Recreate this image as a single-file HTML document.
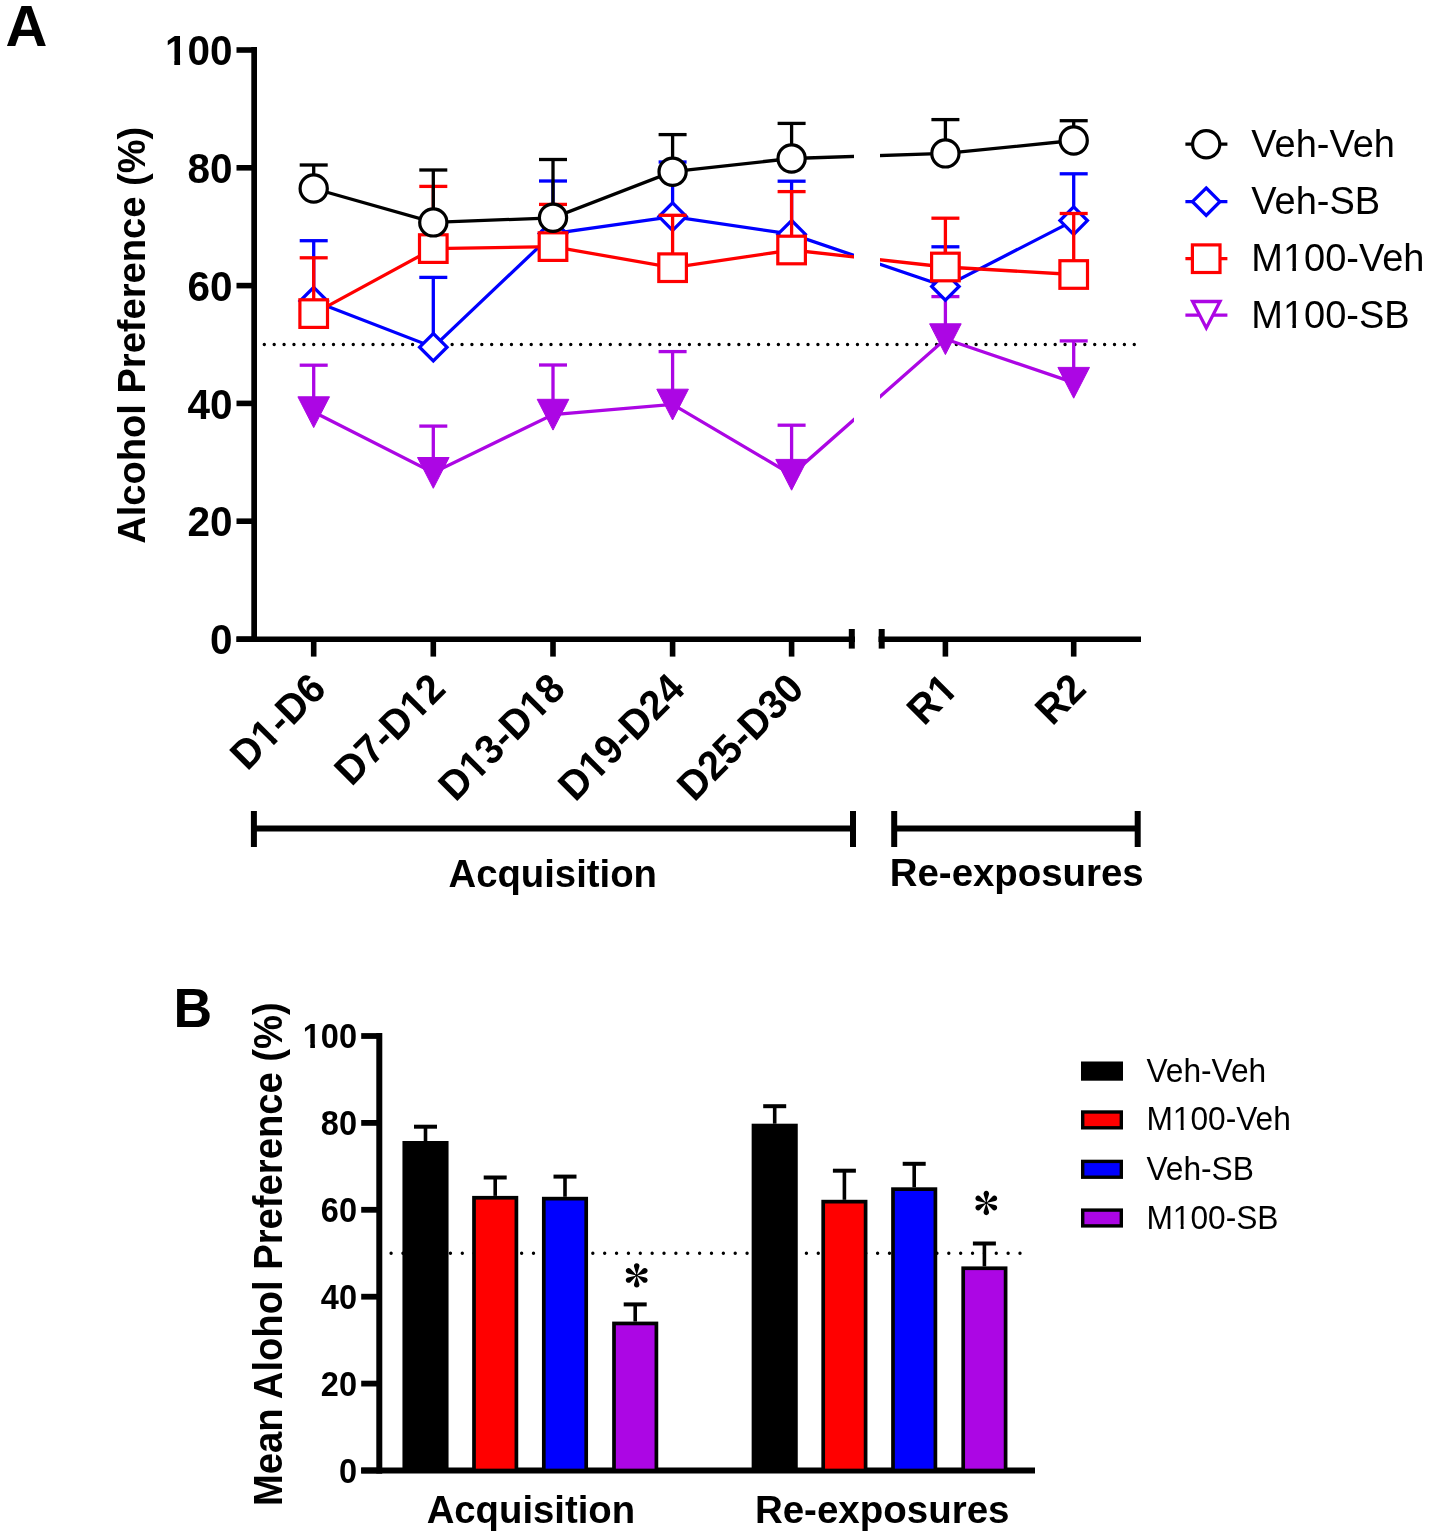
<!DOCTYPE html>
<html><head><meta charset="utf-8"><style>
html,body{margin:0;padding:0;background:#fff;}
svg{display:block;will-change:transform;}
</style></head><body>
<svg width="1429" height="1537" viewBox="0 0 1429 1537">
<rect width="1429" height="1537" fill="#fff"/>
<text transform="translate(5.45,45.50) scale(1.0,0.975)" font-size="58" font-weight="bold" text-anchor="start" font-family='"Liberation Sans", sans-serif'>A</text>
<line x1="236.5" y1="50" x2="256" y2="50" stroke="#000" stroke-width="5.6"/>
<g transform="translate(232.50,65.20) scale(1.0,1.04)"><text id="t1" font-size="40.5" font-weight="bold" text-anchor="end" font-family='"Liberation Sans", sans-serif'>100</text>
<rect x="-65.99" y="-5.33" width="7.80" height="6.53" fill="#fff"/>
<rect x="-52.43" y="-5.33" width="7.29" height="6.53" fill="#fff"/>
</g>
<line x1="236.5" y1="167.8" x2="256" y2="167.8" stroke="#000" stroke-width="5.6"/>
<text transform="translate(232.50,183.00) scale(1.0,1.04)" font-size="40.5" font-weight="bold" text-anchor="end" font-family='"Liberation Sans", sans-serif'>80</text>
<line x1="236.5" y1="285.6" x2="256" y2="285.6" stroke="#000" stroke-width="5.6"/>
<text transform="translate(232.50,300.80) scale(1.0,1.04)" font-size="40.5" font-weight="bold" text-anchor="end" font-family='"Liberation Sans", sans-serif'>60</text>
<line x1="236.5" y1="403.4" x2="256" y2="403.4" stroke="#000" stroke-width="5.6"/>
<text transform="translate(232.50,418.60) scale(1.0,1.04)" font-size="40.5" font-weight="bold" text-anchor="end" font-family='"Liberation Sans", sans-serif'>40</text>
<line x1="236.5" y1="521.2" x2="256" y2="521.2" stroke="#000" stroke-width="5.6"/>
<text transform="translate(232.50,536.40) scale(1.0,1.04)" font-size="40.5" font-weight="bold" text-anchor="end" font-family='"Liberation Sans", sans-serif'>20</text>
<line x1="236.5" y1="639.2" x2="256" y2="639.2" stroke="#000" stroke-width="5.6"/>
<text transform="translate(232.50,654.40) scale(1.0,1.04)" font-size="40.5" font-weight="bold" text-anchor="end" font-family='"Liberation Sans", sans-serif'>0</text>
<line x1="254.15" y1="47.0" x2="254.15" y2="641.9" stroke="#000" stroke-width="5.7"/>
<line x1="236.5" y1="639.2" x2="855" y2="639.2" stroke="#000" stroke-width="5.6"/>
<line x1="851.8" y1="629" x2="851.8" y2="648.6" stroke="#000" stroke-width="6"/>
<line x1="878.5" y1="639.2" x2="1141" y2="639.2" stroke="#000" stroke-width="5.6"/>
<line x1="881.7" y1="629" x2="881.7" y2="648.6" stroke="#000" stroke-width="6"/>
<line x1="313.7" y1="640" x2="313.7" y2="656.6" stroke="#000" stroke-width="5.6"/>
<line x1="433.3" y1="640" x2="433.3" y2="656.6" stroke="#000" stroke-width="5.6"/>
<line x1="553.0" y1="640" x2="553.0" y2="656.6" stroke="#000" stroke-width="5.6"/>
<line x1="672.6" y1="640" x2="672.6" y2="656.6" stroke="#000" stroke-width="5.6"/>
<line x1="791.6" y1="640" x2="791.6" y2="656.6" stroke="#000" stroke-width="5.6"/>
<line x1="945.4" y1="640" x2="945.4" y2="656.6" stroke="#000" stroke-width="5.6"/>
<line x1="1073.7" y1="640" x2="1073.7" y2="656.6" stroke="#000" stroke-width="5.6"/>
<g transform="translate(328.00,691.00) rotate(-45) scale(1.0,1.04)"><text id="t2" font-size="39.5" font-weight="bold" text-anchor="end" font-family='"Liberation Sans", sans-serif'>D1-D6</text>
<rect x="-84.11" y="-5.23" width="7.63" height="6.43" fill="#fff"/>
<rect x="-70.86" y="-5.23" width="7.13" height="6.43" fill="#fff"/>
</g>
<g transform="translate(447.60,691.00) rotate(-45) scale(1.0,1.04)"><text id="t3" font-size="39.5" font-weight="bold" text-anchor="end" font-family='"Liberation Sans", sans-serif'>D7-D12</text>
<rect x="-42.45" y="-5.23" width="7.63" height="6.43" fill="#fff"/>
<rect x="-29.20" y="-5.23" width="7.13" height="6.43" fill="#fff"/>
</g>
<g transform="translate(567.30,691.00) rotate(-45) scale(1.0,1.04)"><text id="t4" font-size="39.5" font-weight="bold" text-anchor="end" font-family='"Liberation Sans", sans-serif'>D13-D18</text>
<rect x="-128.04" y="-5.23" width="7.63" height="6.43" fill="#fff"/>
<rect x="-114.79" y="-5.23" width="7.13" height="6.43" fill="#fff"/>
<rect x="-42.45" y="-5.23" width="7.63" height="6.43" fill="#fff"/>
<rect x="-29.20" y="-5.23" width="7.13" height="6.43" fill="#fff"/>
</g>
<g transform="translate(686.90,691.00) rotate(-45) scale(1.0,1.04)"><text id="t5" font-size="39.5" font-weight="bold" text-anchor="end" font-family='"Liberation Sans", sans-serif'>D19-D24</text>
<rect x="-128.04" y="-5.23" width="7.63" height="6.43" fill="#fff"/>
<rect x="-114.79" y="-5.23" width="7.13" height="6.43" fill="#fff"/>
</g>
<text transform="translate(805.90,691.00) rotate(-45) scale(1.0,1.04)" font-size="39.5" font-weight="bold" text-anchor="end" font-family='"Liberation Sans", sans-serif'>D25-D30</text>
<g transform="translate(959.70,691.00) rotate(-45) scale(1.0,1.04)"><text id="t6" font-size="39.5" font-weight="bold" text-anchor="end" font-family='"Liberation Sans", sans-serif'>R1</text>
<rect x="-20.49" y="-5.23" width="7.63" height="6.43" fill="#fff"/>
<rect x="-7.24" y="-5.23" width="7.13" height="6.43" fill="#fff"/>
</g>
<text transform="translate(1088.00,691.00) rotate(-45) scale(1.0,1.04)" font-size="39.5" font-weight="bold" text-anchor="end" font-family='"Liberation Sans", sans-serif'>R2</text>
<line x1="253.9" y1="828.5" x2="853" y2="828.5" stroke="#000" stroke-width="6"/>
<line x1="253.9" y1="811" x2="253.9" y2="847" stroke="#000" stroke-width="6"/>
<line x1="853" y1="811" x2="853" y2="847" stroke="#000" stroke-width="6"/>
<line x1="894.2" y1="828.5" x2="1137.7" y2="828.5" stroke="#000" stroke-width="6"/>
<line x1="894.2" y1="811" x2="894.2" y2="847" stroke="#000" stroke-width="6"/>
<line x1="1137.7" y1="811" x2="1137.7" y2="847" stroke="#000" stroke-width="6"/>
<text transform="translate(552.70,886.60) scale(1.0,1.02)" font-size="38.3" font-weight="bold" text-anchor="middle" font-family='"Liberation Sans", sans-serif'>Acquisition</text>
<text transform="translate(1016.70,886.40) scale(1.0,1.02)" font-size="38.4" font-weight="bold" text-anchor="middle" font-family='"Liberation Sans", sans-serif'>Re-exposures</text>
<text transform="translate(144.70,335.30) rotate(-90) scale(1.0,1.04)" font-size="38.1" font-weight="bold" text-anchor="middle" font-family='"Liberation Sans", sans-serif'>Alcohol Preference (%)</text>
<line x1="264.3" y1="344.5" x2="1134.4" y2="344.5" stroke="#000" stroke-width="3.4" stroke-dasharray="0 9.886" stroke-linecap="round"/>
<defs><clipPath id="brk"><rect x="0" y="0" width="854" height="700"/><rect x="880" y="0" width="549" height="700"/></clipPath></defs>
<line x1="313.7" y1="412" x2="313.7" y2="365.2" stroke="#ac06e4" stroke-width="3.3"/>
<line x1="299.7" y1="365.2" x2="327.7" y2="365.2" stroke="#ac06e4" stroke-width="3.3"/>
<line x1="433.3" y1="472.7" x2="433.3" y2="426.1" stroke="#ac06e4" stroke-width="3.3"/>
<line x1="419.3" y1="426.1" x2="447.3" y2="426.1" stroke="#ac06e4" stroke-width="3.3"/>
<line x1="553.0" y1="414.5" x2="553.0" y2="365" stroke="#ac06e4" stroke-width="3.3"/>
<line x1="539.0" y1="365" x2="567.0" y2="365" stroke="#ac06e4" stroke-width="3.3"/>
<line x1="672.6" y1="404.4" x2="672.6" y2="351.6" stroke="#ac06e4" stroke-width="3.3"/>
<line x1="658.6" y1="351.6" x2="686.6" y2="351.6" stroke="#ac06e4" stroke-width="3.3"/>
<line x1="791.6" y1="474.6" x2="791.6" y2="425.2" stroke="#ac06e4" stroke-width="3.3"/>
<line x1="777.6" y1="425.2" x2="805.6" y2="425.2" stroke="#ac06e4" stroke-width="3.3"/>
<line x1="945.4" y1="339" x2="945.4" y2="296.6" stroke="#ac06e4" stroke-width="3.3"/>
<line x1="931.4" y1="296.6" x2="959.4" y2="296.6" stroke="#ac06e4" stroke-width="3.3"/>
<line x1="1073.7" y1="382.6" x2="1073.7" y2="340.9" stroke="#ac06e4" stroke-width="3.3"/>
<line x1="1059.7" y1="340.9" x2="1087.7" y2="340.9" stroke="#ac06e4" stroke-width="3.3"/>
<polyline points="313.7,412 433.3,472.7 553.0,414.5 672.6,404.4 791.6,474.6 945.4,339 1073.7,382.6" fill="none" stroke="#ac06e4" stroke-width="3.3" clip-path="url(#brk)"/>
<path d="M297.9 396.8 L329.5 396.8 L313.7 427.6 Z" fill="#ac06e4" stroke="#ac06e4" stroke-width="1" stroke-linejoin="miter"/>
<path d="M417.5 457.5 L449.1 457.5 L433.3 488.3 Z" fill="#ac06e4" stroke="#ac06e4" stroke-width="1" stroke-linejoin="miter"/>
<path d="M537.2 399.3 L568.8 399.3 L553.0 430.1 Z" fill="#ac06e4" stroke="#ac06e4" stroke-width="1" stroke-linejoin="miter"/>
<path d="M656.8000000000001 389.2 L688.4 389.2 L672.6 420.0 Z" fill="#ac06e4" stroke="#ac06e4" stroke-width="1" stroke-linejoin="miter"/>
<path d="M775.8000000000001 459.40000000000003 L807.4 459.40000000000003 L791.6 490.20000000000005 Z" fill="#ac06e4" stroke="#ac06e4" stroke-width="1" stroke-linejoin="miter"/>
<path d="M929.6 323.8 L961.1999999999999 323.8 L945.4 354.6 Z" fill="#ac06e4" stroke="#ac06e4" stroke-width="1" stroke-linejoin="miter"/>
<path d="M1057.9 367.40000000000003 L1089.5 367.40000000000003 L1073.7 398.20000000000005 Z" fill="#ac06e4" stroke="#ac06e4" stroke-width="1" stroke-linejoin="miter"/>
<line x1="313.7" y1="301" x2="313.7" y2="240.7" stroke="#0000ff" stroke-width="3.3"/>
<line x1="299.7" y1="240.7" x2="327.7" y2="240.7" stroke="#0000ff" stroke-width="3.3"/>
<line x1="433.3" y1="347.2" x2="433.3" y2="277.4" stroke="#0000ff" stroke-width="3.3"/>
<line x1="419.3" y1="277.4" x2="447.3" y2="277.4" stroke="#0000ff" stroke-width="3.3"/>
<line x1="553.0" y1="233.5" x2="553.0" y2="181" stroke="#0000ff" stroke-width="3.3"/>
<line x1="539.0" y1="181" x2="567.0" y2="181" stroke="#0000ff" stroke-width="3.3"/>
<line x1="672.6" y1="216.6" x2="672.6" y2="162" stroke="#0000ff" stroke-width="3.3"/>
<line x1="658.6" y1="162" x2="686.6" y2="162" stroke="#0000ff" stroke-width="3.3"/>
<line x1="791.6" y1="234.2" x2="791.6" y2="181.2" stroke="#0000ff" stroke-width="3.3"/>
<line x1="777.6" y1="181.2" x2="805.6" y2="181.2" stroke="#0000ff" stroke-width="3.3"/>
<line x1="945.4" y1="286.5" x2="945.4" y2="246.8" stroke="#0000ff" stroke-width="3.3"/>
<line x1="931.4" y1="246.8" x2="959.4" y2="246.8" stroke="#0000ff" stroke-width="3.3"/>
<line x1="1073.7" y1="220.6" x2="1073.7" y2="173.8" stroke="#0000ff" stroke-width="3.3"/>
<line x1="1059.7" y1="173.8" x2="1087.7" y2="173.8" stroke="#0000ff" stroke-width="3.3"/>
<polyline points="313.7,301 433.3,347.2 553.0,233.5 672.6,216.6 791.6,234.2 945.4,286.5 1073.7,220.6" fill="none" stroke="#0000ff" stroke-width="3.3" clip-path="url(#brk)"/>
<path d="M313.7 287.3 L327.4 301 L313.7 314.7 L300.0 301 Z" fill="#fff" stroke="#0000ff" stroke-width="3.3"/>
<path d="M433.3 333.5 L447.0 347.2 L433.3 360.9 L419.6 347.2 Z" fill="#fff" stroke="#0000ff" stroke-width="3.3"/>
<path d="M553.0 219.8 L566.7 233.5 L553.0 247.2 L539.3 233.5 Z" fill="#fff" stroke="#0000ff" stroke-width="3.3"/>
<path d="M672.6 202.9 L686.3000000000001 216.6 L672.6 230.29999999999998 L658.9 216.6 Z" fill="#fff" stroke="#0000ff" stroke-width="3.3"/>
<path d="M791.6 220.5 L805.3000000000001 234.2 L791.6 247.89999999999998 L777.9 234.2 Z" fill="#fff" stroke="#0000ff" stroke-width="3.3"/>
<path d="M945.4 272.8 L959.1 286.5 L945.4 300.2 L931.6999999999999 286.5 Z" fill="#fff" stroke="#0000ff" stroke-width="3.3"/>
<path d="M1073.7 206.9 L1087.4 220.6 L1073.7 234.29999999999998 L1060.0 220.6 Z" fill="#fff" stroke="#0000ff" stroke-width="3.3"/>
<line x1="313.7" y1="313.6" x2="313.7" y2="257.8" stroke="#ff0000" stroke-width="3.3"/>
<line x1="299.7" y1="257.8" x2="327.7" y2="257.8" stroke="#ff0000" stroke-width="3.3"/>
<line x1="433.3" y1="248.6" x2="433.3" y2="186.4" stroke="#ff0000" stroke-width="3.3"/>
<line x1="419.3" y1="186.4" x2="447.3" y2="186.4" stroke="#ff0000" stroke-width="3.3"/>
<line x1="553.0" y1="246.6" x2="553.0" y2="204.4" stroke="#ff0000" stroke-width="3.3"/>
<line x1="539.0" y1="204.4" x2="567.0" y2="204.4" stroke="#ff0000" stroke-width="3.3"/>
<line x1="672.6" y1="267.7" x2="672.6" y2="215.3" stroke="#ff0000" stroke-width="3.3"/>
<line x1="658.6" y1="215.3" x2="686.6" y2="215.3" stroke="#ff0000" stroke-width="3.3"/>
<line x1="791.6" y1="250" x2="791.6" y2="191.6" stroke="#ff0000" stroke-width="3.3"/>
<line x1="777.6" y1="191.6" x2="805.6" y2="191.6" stroke="#ff0000" stroke-width="3.3"/>
<line x1="945.4" y1="267" x2="945.4" y2="218.2" stroke="#ff0000" stroke-width="3.3"/>
<line x1="931.4" y1="218.2" x2="959.4" y2="218.2" stroke="#ff0000" stroke-width="3.3"/>
<line x1="1073.7" y1="274.5" x2="1073.7" y2="213.5" stroke="#ff0000" stroke-width="3.3"/>
<line x1="1059.7" y1="213.5" x2="1087.7" y2="213.5" stroke="#ff0000" stroke-width="3.3"/>
<polyline points="313.7,313.6 433.3,248.6 553.0,246.6 672.6,267.7 791.6,250 945.4,267 1073.7,274.5" fill="none" stroke="#ff0000" stroke-width="3.3" clip-path="url(#brk)"/>
<rect x="299.9" y="299.8" width="27.6" height="27.6" fill="#fff" stroke="#ff0000" stroke-width="3.2"/>
<rect x="419.5" y="234.79999999999998" width="27.6" height="27.6" fill="#fff" stroke="#ff0000" stroke-width="3.2"/>
<rect x="539.2" y="232.79999999999998" width="27.6" height="27.6" fill="#fff" stroke="#ff0000" stroke-width="3.2"/>
<rect x="658.8000000000001" y="253.89999999999998" width="27.6" height="27.6" fill="#fff" stroke="#ff0000" stroke-width="3.2"/>
<rect x="777.8000000000001" y="236.2" width="27.6" height="27.6" fill="#fff" stroke="#ff0000" stroke-width="3.2"/>
<rect x="931.6" y="253.2" width="27.6" height="27.6" fill="#fff" stroke="#ff0000" stroke-width="3.2"/>
<rect x="1059.9" y="260.7" width="27.6" height="27.6" fill="#fff" stroke="#ff0000" stroke-width="3.2"/>
<line x1="313.7" y1="188.5" x2="313.7" y2="165" stroke="#000" stroke-width="3.3"/>
<line x1="299.7" y1="165" x2="327.7" y2="165" stroke="#000" stroke-width="3.3"/>
<line x1="433.3" y1="222.4" x2="433.3" y2="170" stroke="#000" stroke-width="3.3"/>
<line x1="419.3" y1="170" x2="447.3" y2="170" stroke="#000" stroke-width="3.3"/>
<line x1="553.0" y1="217.8" x2="553.0" y2="159.5" stroke="#000" stroke-width="3.3"/>
<line x1="539.0" y1="159.5" x2="567.0" y2="159.5" stroke="#000" stroke-width="3.3"/>
<line x1="672.6" y1="171.7" x2="672.6" y2="134.6" stroke="#000" stroke-width="3.3"/>
<line x1="658.6" y1="134.6" x2="686.6" y2="134.6" stroke="#000" stroke-width="3.3"/>
<line x1="791.6" y1="158.5" x2="791.6" y2="123.4" stroke="#000" stroke-width="3.3"/>
<line x1="777.6" y1="123.4" x2="805.6" y2="123.4" stroke="#000" stroke-width="3.3"/>
<line x1="945.4" y1="153.4" x2="945.4" y2="119.6" stroke="#000" stroke-width="3.3"/>
<line x1="931.4" y1="119.6" x2="959.4" y2="119.6" stroke="#000" stroke-width="3.3"/>
<line x1="1073.7" y1="140.5" x2="1073.7" y2="120.7" stroke="#000" stroke-width="3.3"/>
<line x1="1059.7" y1="120.7" x2="1087.7" y2="120.7" stroke="#000" stroke-width="3.3"/>
<polyline points="313.7,188.5 433.3,222.4 553.0,217.8 672.6,171.7 791.6,158.5 945.4,153.4 1073.7,140.5" fill="none" stroke="#000" stroke-width="3.3" clip-path="url(#brk)"/>
<circle cx="313.7" cy="188.5" r="13.6" fill="#fff" stroke="#000" stroke-width="3.2"/>
<circle cx="433.3" cy="222.4" r="13.6" fill="#fff" stroke="#000" stroke-width="3.2"/>
<circle cx="553.0" cy="217.8" r="13.6" fill="#fff" stroke="#000" stroke-width="3.2"/>
<circle cx="672.6" cy="171.7" r="13.6" fill="#fff" stroke="#000" stroke-width="3.2"/>
<circle cx="791.6" cy="158.5" r="13.6" fill="#fff" stroke="#000" stroke-width="3.2"/>
<circle cx="945.4" cy="153.4" r="13.6" fill="#fff" stroke="#000" stroke-width="3.2"/>
<circle cx="1073.7" cy="140.5" r="13.6" fill="#fff" stroke="#000" stroke-width="3.2"/>
<line x1="1185.4" y1="144.2" x2="1227.4" y2="144.2" stroke="#000" stroke-width="3.3"/>
<circle cx="1206.2" cy="144.2" r="13.6" fill="#fff" stroke="#000" stroke-width="3.2"/>
<text transform="translate(1251.30,156.70) scale(1.0,1.04)" font-size="38" text-anchor="start" font-family='"Liberation Sans", sans-serif'>Veh-Veh</text>
<line x1="1185.4" y1="201.7" x2="1227.4" y2="201.7" stroke="#0000ff" stroke-width="3.3"/>
<path d="M1206.2 188.0 L1219.9 201.7 L1206.2 215.39999999999998 L1192.5 201.7 Z" fill="#fff" stroke="#0000ff" stroke-width="3.3"/>
<text transform="translate(1251.30,214.20) scale(1.0,1.04)" font-size="38" text-anchor="start" font-family='"Liberation Sans", sans-serif'>Veh-SB</text>
<line x1="1185.4" y1="258.7" x2="1227.4" y2="258.7" stroke="#ff0000" stroke-width="3.3"/>
<rect x="1192.4" y="244.89999999999998" width="27.6" height="27.6" fill="#fff" stroke="#ff0000" stroke-width="3.2"/>
<g transform="translate(1251.30,271.20) scale(1.0,1.04)"><text id="t7" font-size="38" text-anchor="start" font-family='"Liberation Sans", sans-serif'>M100-Veh</text>
<rect x="33.52" y="-4.04" width="7.56" height="5.24" fill="#fff"/>
<rect x="44.64" y="-4.04" width="7.26" height="5.24" fill="#fff"/>
</g>
<line x1="1185.4" y1="315.2" x2="1227.4" y2="315.2" stroke="#ac06e4" stroke-width="3.3"/>
<path d="M1192.6 301.5 L1220.0 301.5 L1206.3 327.9 Z" fill="#fff" stroke="#ac06e4" stroke-width="3.3" stroke-linejoin="miter"/>
<g transform="translate(1251.30,327.70) scale(1.0,1.04)"><text id="t8" font-size="38" text-anchor="start" font-family='"Liberation Sans", sans-serif'>M100-SB</text>
<rect x="33.52" y="-4.04" width="7.56" height="5.24" fill="#fff"/>
<rect x="44.64" y="-4.04" width="7.26" height="5.24" fill="#fff"/>
</g>
<text transform="translate(173.40,1026.80) scale(1.0,1.03)" font-size="53.5" font-weight="bold" text-anchor="start" font-family='"Liberation Sans", sans-serif'>B</text>
<line x1="361.2" y1="1036.0" x2="382" y2="1036.0" stroke="#000" stroke-width="5.8"/>
<g transform="translate(357.00,1048.10) scale(1.0,1.07)"><text id="t9" font-size="32.5" font-weight="bold" text-anchor="end" font-family='"Liberation Sans", sans-serif'>100</text>
<rect x="-53.16" y="-4.52" width="6.44" height="5.72" fill="#fff"/>
<rect x="-42.07" y="-4.52" width="6.03" height="5.72" fill="#fff"/>
</g>
<line x1="361.2" y1="1122.9" x2="382" y2="1122.9" stroke="#000" stroke-width="5.8"/>
<text transform="translate(357.00,1135.00) scale(1.0,1.07)" font-size="32.5" font-weight="bold" text-anchor="end" font-family='"Liberation Sans", sans-serif'>80</text>
<line x1="361.2" y1="1209.8" x2="382" y2="1209.8" stroke="#000" stroke-width="5.8"/>
<text transform="translate(357.00,1221.90) scale(1.0,1.07)" font-size="32.5" font-weight="bold" text-anchor="end" font-family='"Liberation Sans", sans-serif'>60</text>
<line x1="361.2" y1="1296.7" x2="382" y2="1296.7" stroke="#000" stroke-width="5.8"/>
<text transform="translate(357.00,1308.80) scale(1.0,1.07)" font-size="32.5" font-weight="bold" text-anchor="end" font-family='"Liberation Sans", sans-serif'>40</text>
<line x1="361.2" y1="1383.6" x2="382" y2="1383.6" stroke="#000" stroke-width="5.8"/>
<text transform="translate(357.00,1395.70) scale(1.0,1.07)" font-size="32.5" font-weight="bold" text-anchor="end" font-family='"Liberation Sans", sans-serif'>20</text>
<line x1="361.2" y1="1470.5" x2="382" y2="1470.5" stroke="#000" stroke-width="5.8"/>
<text transform="translate(357.00,1482.60) scale(1.0,1.07)" font-size="32.5" font-weight="bold" text-anchor="end" font-family='"Liberation Sans", sans-serif'>0</text>
<line x1="379.3" y1="1033.1" x2="379.3" y2="1473.5" stroke="#000" stroke-width="6"/>
<line x1="361.2" y1="1470.5" x2="1035" y2="1470.5" stroke="#000" stroke-width="6"/>
<line x1="391.1" y1="1253.3" x2="1020.1" y2="1253.3" stroke="#000" stroke-width="3.4" stroke-dasharray="0 11.866" stroke-linecap="round"/>
<line x1="425.5" y1="1141" x2="425.5" y2="1126.7" stroke="#000" stroke-width="3.6"/>
<line x1="414.0" y1="1126.7" x2="437.0" y2="1126.7" stroke="#000" stroke-width="4"/>
<rect x="404.3" y="1142.85" width="42.4" height="327.65" fill="#000" stroke="#000" stroke-width="3.7"/>
<line x1="495.2" y1="1195.9" x2="495.2" y2="1177.5" stroke="#000" stroke-width="3.6"/>
<line x1="483.7" y1="1177.5" x2="506.7" y2="1177.5" stroke="#000" stroke-width="4"/>
<rect x="474.0" y="1197.75" width="42.4" height="272.7499999999999" fill="#ff0000" stroke="#000" stroke-width="3.7"/>
<line x1="565.0" y1="1196.8" x2="565.0" y2="1176.6" stroke="#000" stroke-width="3.6"/>
<line x1="553.5" y1="1176.6" x2="576.5" y2="1176.6" stroke="#000" stroke-width="4"/>
<rect x="543.8" y="1198.6499999999999" width="42.4" height="271.85" fill="#0000ff" stroke="#000" stroke-width="3.7"/>
<line x1="635.2" y1="1321.6" x2="635.2" y2="1304.4" stroke="#000" stroke-width="3.6"/>
<line x1="623.7" y1="1304.4" x2="646.7" y2="1304.4" stroke="#000" stroke-width="4"/>
<rect x="614.0" y="1323.4499999999998" width="42.4" height="147.0500000000001" fill="#ac06e4" stroke="#000" stroke-width="3.7"/>
<line x1="774.7" y1="1123.7" x2="774.7" y2="1106.2" stroke="#000" stroke-width="3.6"/>
<line x1="763.2" y1="1106.2" x2="786.2" y2="1106.2" stroke="#000" stroke-width="4"/>
<rect x="753.5" y="1125.55" width="42.4" height="344.94999999999993" fill="#000" stroke="#000" stroke-width="3.7"/>
<line x1="844.4" y1="1199.8" x2="844.4" y2="1170.7" stroke="#000" stroke-width="3.6"/>
<line x1="832.9" y1="1170.7" x2="855.9" y2="1170.7" stroke="#000" stroke-width="4"/>
<rect x="823.1999999999999" y="1201.6499999999999" width="42.4" height="268.85" fill="#ff0000" stroke="#000" stroke-width="3.7"/>
<line x1="914.2" y1="1187.3" x2="914.2" y2="1163.8" stroke="#000" stroke-width="3.6"/>
<line x1="902.7" y1="1163.8" x2="925.7" y2="1163.8" stroke="#000" stroke-width="4"/>
<rect x="893.0" y="1189.1499999999999" width="42.4" height="281.35" fill="#0000ff" stroke="#000" stroke-width="3.7"/>
<line x1="984.4" y1="1266.4" x2="984.4" y2="1243.5" stroke="#000" stroke-width="3.6"/>
<line x1="972.9" y1="1243.5" x2="995.9" y2="1243.5" stroke="#000" stroke-width="4"/>
<rect x="963.1999999999999" y="1268.25" width="42.4" height="202.24999999999991" fill="#ac06e4" stroke="#000" stroke-width="3.7"/>
<path d="M636.70 1275.40L639.33 1266.80A2.75 2.75 0 1 0 634.07 1266.80ZM636.70 1275.40L630.57 1268.82A2.75 2.75 0 1 0 627.94 1273.38ZM636.70 1275.40L627.94 1277.42A2.75 2.75 0 1 0 630.57 1281.98ZM636.70 1275.40L634.07 1284.00A2.75 2.75 0 1 0 639.33 1284.00ZM636.70 1275.40L642.83 1281.98A2.75 2.75 0 1 0 645.46 1277.42ZM636.70 1275.40L645.46 1273.38A2.75 2.75 0 1 0 642.83 1268.82Z" fill="#000"/>
<path d="M986.30 1203.00L988.93 1194.40A2.75 2.75 0 1 0 983.67 1194.40ZM986.30 1203.00L980.17 1196.42A2.75 2.75 0 1 0 977.54 1200.98ZM986.30 1203.00L977.54 1205.02A2.75 2.75 0 1 0 980.17 1209.58ZM986.30 1203.00L983.67 1211.60A2.75 2.75 0 1 0 988.93 1211.60ZM986.30 1203.00L992.43 1209.58A2.75 2.75 0 1 0 995.06 1205.02ZM986.30 1203.00L995.06 1200.98A2.75 2.75 0 1 0 992.43 1196.42Z" fill="#000"/>
<circle cx="636.7" cy="1275.4" r="1.4"/><circle cx="986.3" cy="1203.0" r="1.4"/>
<text transform="translate(530.90,1522.70) scale(1.0,1.02)" font-size="38.3" font-weight="bold" text-anchor="middle" font-family='"Liberation Sans", sans-serif'>Acquisition</text>
<text transform="translate(882.20,1522.70) scale(1.0,1.02)" font-size="38.5" font-weight="bold" text-anchor="middle" font-family='"Liberation Sans", sans-serif'>Re-exposures</text>
<text transform="translate(281.80,1254.15) rotate(-90) scale(1.0,1.04)" font-size="38.2" font-weight="bold" text-anchor="middle" font-family='"Liberation Sans", sans-serif'>Mean Alohol Preference (%)</text>
<rect x="1082.7" y="1063.1999999999998" width="38.6" height="15.8" fill="#000" stroke="#000" stroke-width="3.4"/>
<text transform="translate(1146.40,1081.60) scale(1.0,1.04)" font-size="31.7" text-anchor="start" font-family='"Liberation Sans", sans-serif'>Veh-Veh</text>
<rect x="1082.7" y="1112.0" width="38.6" height="15.8" fill="#ff0000" stroke="#000" stroke-width="3.4"/>
<g transform="translate(1146.40,1130.40) scale(1.0,1.04)"><text id="t10" font-size="31.7" text-anchor="start" font-family='"Liberation Sans", sans-serif'>M100-Veh</text>
<rect x="27.80" y="-3.57" width="6.46" height="4.77" fill="#fff"/>
<rect x="37.26" y="-3.57" width="6.21" height="4.77" fill="#fff"/>
</g>
<rect x="1082.7" y="1161.3999999999999" width="38.6" height="15.8" fill="#0000ff" stroke="#000" stroke-width="3.4"/>
<text transform="translate(1146.40,1179.80) scale(1.0,1.04)" font-size="31.7" text-anchor="start" font-family='"Liberation Sans", sans-serif'>Veh-SB</text>
<rect x="1082.7" y="1210.1" width="38.6" height="15.8" fill="#ac06e4" stroke="#000" stroke-width="3.4"/>
<g transform="translate(1146.40,1228.50) scale(1.0,1.04)"><text id="t11" font-size="31.7" text-anchor="start" font-family='"Liberation Sans", sans-serif'>M100-SB</text>
<rect x="27.80" y="-3.57" width="6.46" height="4.77" fill="#fff"/>
<rect x="37.26" y="-3.57" width="6.21" height="4.77" fill="#fff"/>
</g>
</svg></body></html>
